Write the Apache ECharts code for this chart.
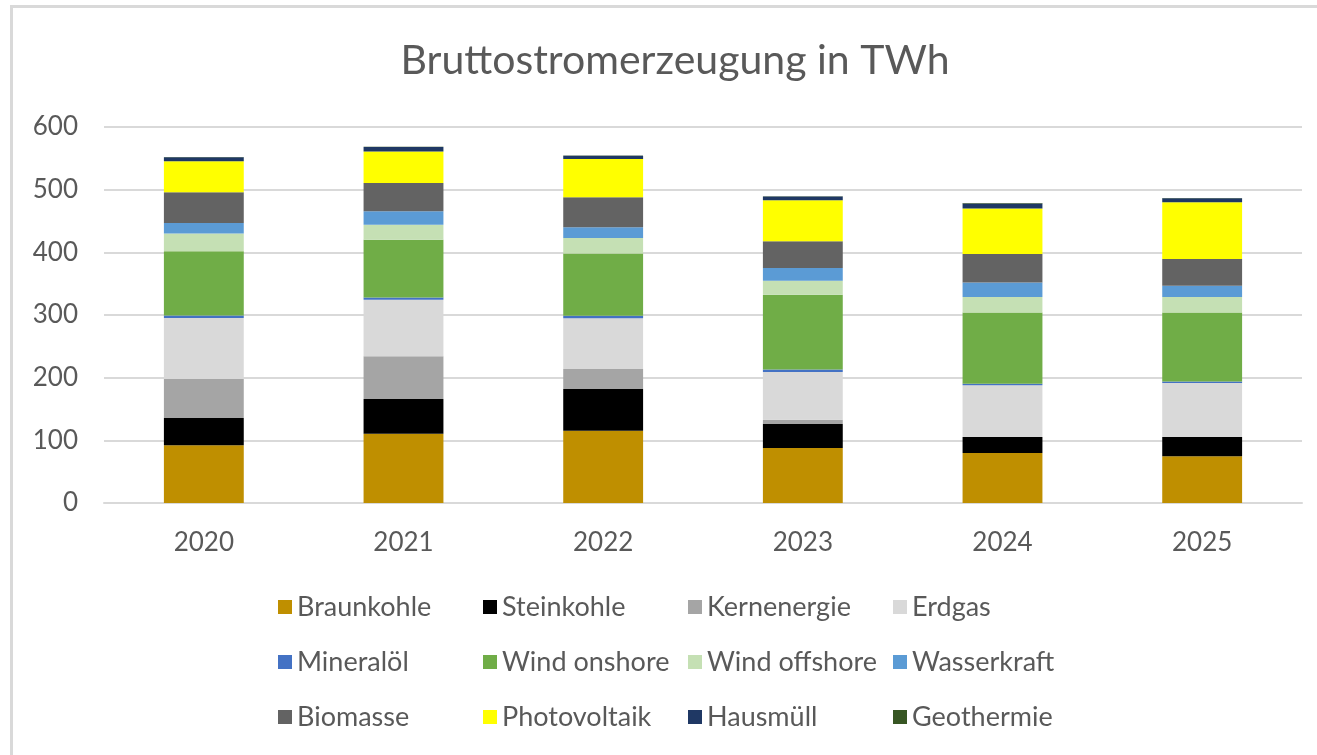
<!DOCTYPE html>
<html>
<head>
<meta charset="utf-8">
<script src="https://cdn.jsdelivr.net/npm/echarts@6/dist/echarts.min.js"></script>
<style>html,body{margin:0;padding:0;background:#fff;}#c{width:1317px;height:755px;}</style>
</head>
<body>
<div id="c"></div>
<script>
const years = ['2020', '2021', '2022', '2023', '2024', '2025'];
const yTicks = [0, 100, 200, 300, 400, 500, 600];
const braunkohle   = [92.0, 110.6, 115.4, 87.8, 79.8, 74.5];
const steinkohle   = [43.6, 55.4, 66.6, 38.2, 25.5, 30.8];
const kernenergie  = [62.3, 68.0, 31.8, 7.0, 0, 0];
const erdgas       = [97.3, 90.5, 81.2, 76.0, 82.5, 86.2];
const mineraloel   = [4.0, 3.5, 4.0, 4.0, 2.6, 2.5];
const windOnshore  = [102.5, 92.0, 99.0, 119.4, 113.6, 110.0];
const windOffshore = [28.2, 24.0, 25.0, 22.4, 24.7, 24.7];
const wasserkraft  = [17.0, 21.4, 17.0, 20.2, 23.3, 18.1];
const biomasse     = [48.9, 45.2, 48.0, 42.6, 45.3, 42.6];
const photovoltaik = [49.5, 50.4, 61.0, 65.4, 72.7, 90.4];
const hausmuell    = [6.5, 7.0, 5.3, 6.0, 8.0, 6.5];
const geothermie   = [0.3, 0.3, 0.3, 0.4, 0.6, 0.5];

const seriesDefs = [
  ['Braunkohle', braunkohle, '#BF8F00'],
  ['Steinkohle', steinkohle, '#000000'],
  ['Kernenergie', kernenergie, '#A5A5A5'],
  ['Erdgas', erdgas, '#D9D9D9'],
  ['Mineralöl', mineraloel, '#4472C4'],
  ['Wind onshore', windOnshore, '#70AD47'],
  ['Wind offshore', windOffshore, '#C5E0B4'],
  ['Wasserkraft', wasserkraft, '#5B9BD5'],
  ['Biomasse', biomasse, '#636363'],
  ['Photovoltaik', photovoltaik, '#FFFF00'],
  ['Hausmüll', hausmuell, '#1F3864'],
  ['Geothermie', geothermie, '#375623']
];

const FONT = 'Lato, "Open Sans", sans-serif';
const TXT = '#595959';

const legendRows = [0, 1, 2].map(r => ({
  left: 273,
  top: 588 + r * 55,
  orient: 'horizontal',
  itemWidth: 14,
  itemHeight: 14,
  itemGap: 10,
  icon: 'rect',
  selectedMode: false,
  data: seriesDefs.slice(r * 4, r * 4 + 4).map(s => s[0]),
  textStyle: { color: TXT, fontFamily: FONT, fontSize: 27, width: 176, lineHeight: 28 }
}));

const chart = echarts.init(document.getElementById('c'), null, { renderer: 'canvas' });
chart.setOption({
  animation: false,
  backgroundColor: '#fff',
  graphic: [
    { type: 'rect', shape: { x: 11.5, y: 6.5, width: 1400, height: 800 }, style: { fill: 'none', stroke: '#D9D9D9', lineWidth: 3 }, silent: true, z: -1 },
    { type: 'text', x: 675, y: 61, style: { text: 'Bruttostromerzeugung in TWh', fill: TXT, font: '41px ' + FONT, align: 'center', verticalAlign: 'middle' } }
  ],
  legend: legendRows,
  grid: { left: 104, right: 15, top: 127, bottom: 252, containLabel: false },
  xAxis: {
    type: 'category',
    data: years,
    axisLine: { lineStyle: { color: '#D9D9D9', width: 2 } },
    axisTick: { show: false },
    axisLabel: { color: TXT, fontFamily: FONT, fontSize: 26, margin: 27, lineHeight: 26 }
  },
  yAxis: {
    type: 'value',
    min: yTicks[0],
    max: yTicks[yTicks.length - 1],
    interval: 100,
    axisLine: { show: false },
    axisTick: { show: false },
    axisLabel: { color: TXT, fontFamily: FONT, fontSize: 26, margin: 26 },
    splitLine: { lineStyle: { color: '#D9D9D9', width: 2 } }
  },
  series: seriesDefs.map(s => ({
    name: s[0],
    type: 'bar',
    stack: 'total',
    barWidth: '40%',
    data: s[1],
    itemStyle: { color: s[2] },
    emphasis: { disabled: true }
  }))
});
</script>
</body>
</html>
